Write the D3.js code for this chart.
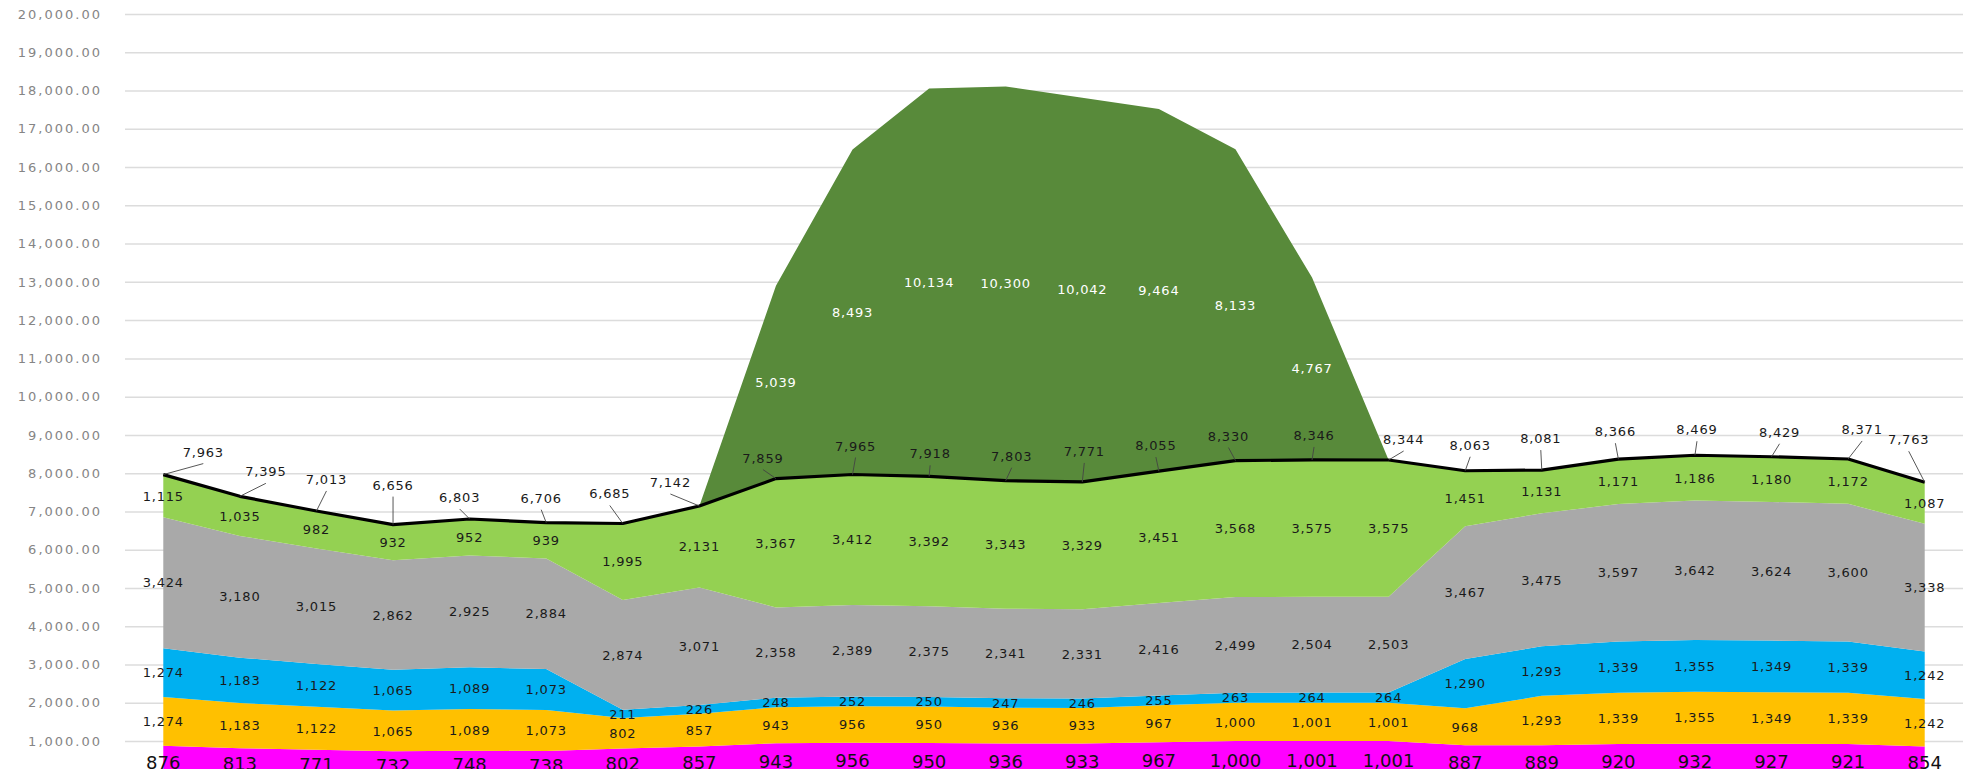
<!DOCTYPE html>
<meta charset="utf-8">
<style>
body{ margin:0; background:#fff; }
.grid line{ stroke:#dcdcdc; stroke-width:1.5px; }
.grid text{ fill:#858585; font-family:"DejaVu Sans"; font-size:13px; letter-spacing:2px; }
.lbl{ font-family:"DejaVu Sans"; font-size:13px; letter-spacing:0.8px; fill:#1a1a1a; }
.big{ font-family:"DejaVu Sans"; font-size:18px; fill:#111; }
</style>
<body>
<script src="https://cdn.jsdelivr.net/npm/d3@7"></script>
<script>

var width = 1968,
    height = 769;

// values, one entry per category (24)
var magenta    = [876,813,771,732,748,738,802,857,943,956,950,936,933,967,1000,1001,1001,887,889,920,932,927,921,854];
var orange     = [1274,1183,1122,1065,1089,1073,802,857,943,956,950,936,933,967,1000,1001,1001,968,1293,1339,1355,1349,1339,1242];
var cyan       = [1274,1183,1122,1065,1089,1073,211,226,248,252,250,247,246,255,263,264,264,1290,1293,1339,1355,1349,1339,1242];
var gray       = [3424,3180,3015,2862,2925,2884,2874,3071,2358,2389,2375,2341,2331,2416,2499,2504,2503,3467,3475,3597,3642,3624,3600,3338];
var lightGreen = [1115,1035,982,932,952,939,1995,2131,3367,3412,3392,3343,3329,3451,3568,3575,3575,1451,1131,1171,1186,1180,1172,1087];
var darkGreen  = [0,0,0,0,0,0,0,0,5039,8493,10134,10300,10042,9464,8133,4767,0,0,0,0,0,0,0,0];
var totals     = [7963,7395,7013,6656,6803,6706,6685,7142,7859,7965,7918,7803,7771,8055,8330,8346,8344,8063,8081,8366,8469,8429,8371,7763];

var yTicks = d3.range(1000, 20001, 1000);

// manual nudges for the total labels (like dragged labels in the original)
var totalNudge = [[40,-18],[26,-20],[10,-27],[0,-35],[-10,-17],[-5,-20],[-13,-25],[-29,-19],
                  [-13,-16],[3,-24],[1,-18],[6,-20],[2,-26],[-3,-21],[-7,-20],[2,-20],
                  [15,-16],[5,-21],[-1,-27],[-3,-23],[2,-21],[8,-20],[14,-25],[-16,-38]];

var keys = ["magenta","orange","cyan","gray","lightGreen","darkGreen"];
var colors = {magenta:"#ff00ff", orange:"#ffc000", cyan:"#00b0f0", gray:"#a9a9a9", lightGreen:"#94d152", darkGreen:"#588a3a"};
var series = {magenta:magenta, orange:orange, cyan:cyan, gray:gray, lightGreen:lightGreen, darkGreen:darkGreen};

var rows = d3.range(totals.length).map(function(i){
    var r = {i:i};
    keys.forEach(function(k){ r[k] = series[k][i]; });
    return r;
});

var svg = d3.select("body").append("svg")
    .attr("width", width)
    .attr("height", height);

var x = d3.scaleBand()
    .domain(d3.range(totals.length))
    .range([125, 1963]);
var cx = function(i){ return x(i) + x.bandwidth()/2; };

var y = d3.scaleLinear()
    .domain([0, 20000])
    .range([779.3, 14]);

var grid = svg.append("g")
    .attr("class","grid")
    .attr("transform","translate(125,0)")
    .call(d3.axisLeft(y)
        .tickValues(yTicks)
        .tickSize(-(1963-125))
        .tickPadding(23)
        .tickFormat(d3.format(",.2f")));
grid.select(".domain").remove();

var stack = d3.stack().keys(keys)(rows);

var area = d3.area()
    .x(function(d){ return cx(d.data.i); })
    .y0(function(d){ return y(d[0]); })
    .y1(function(d){ return y(d[1]); });

svg.append("g").selectAll("path")
    .data(stack)
    .enter().append("path")
    .attr("fill", function(d){ return colors[d.key]; })
    .attr("d", area);

// total line
var line = d3.line()
    .x(function(d,i){ return cx(i); })
    .y(function(d){ return y(d); });

svg.append("path")
    .datum(totals)
    .attr("fill","none")
    .attr("stroke","#000")
    .attr("stroke-width",3.2)
    .attr("stroke-linejoin","round")
    .attr("d", line);

var fmt = d3.format(",");

// band labels
stack.forEach(function(s){
    svg.append("g").selectAll("text")
        .data(s.filter(function(d){ return d[1]-d[0] > 0; }))
        .enter().append("text")
        .attr("class", s.key == "magenta" ? "big" : "lbl")
        .attr("x", function(d){ return cx(d.data.i); })
        .attr("y", function(d){ return y((d[0]+d[1])/2); })
        .attr("dy","0.36em")
        .attr("text-anchor","middle")
        .style("fill", s.key == "darkGreen" ? "#fff" : null)
        .text(function(d){ return fmt(d.data[s.key]); });
});

// total labels with leader lines
var tot = svg.append("g");
totals.forEach(function(t,i){
    var px = cx(i), py = y(t);
    var lx = px + totalNudge[i][0], ly = py + totalNudge[i][1];
    if (ly + 7 < py - 3) {
        tot.append("line")
            .attr("x1", px).attr("y1", py)
            .attr("x2", lx).attr("y2", ly + 7)
            .attr("stroke","#444")
            .attr("stroke-width",0.9);
    }
    tot.append("text")
        .attr("class","lbl")
        .attr("x", lx)
        .attr("y", ly)
        .attr("dy","0.0em")
        .attr("text-anchor","middle")
        .text(fmt(t));
});

</script>
